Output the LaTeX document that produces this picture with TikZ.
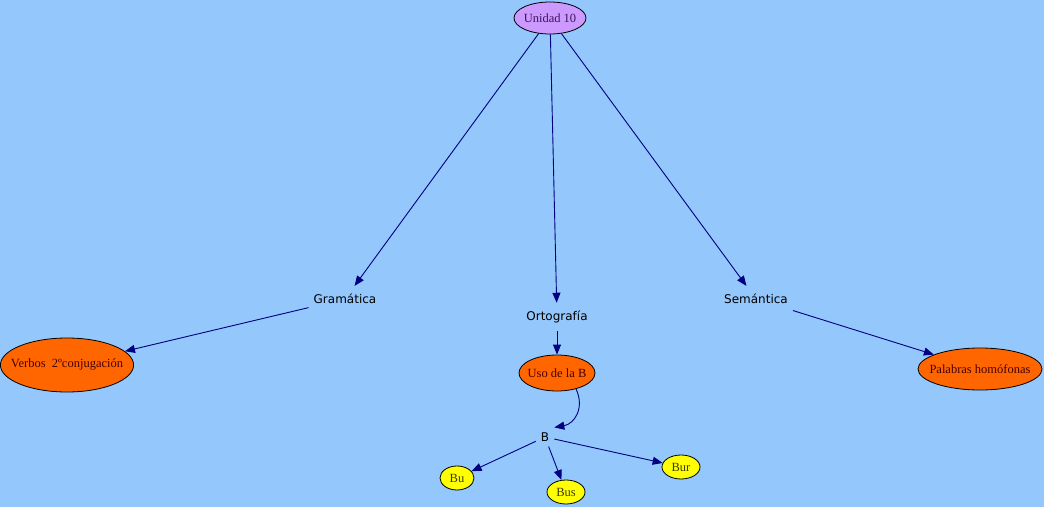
\documentclass[tikz,border=0pt]{standalone}
\usepackage{fontspec}
\setmainfont{Liberation Serif}
\newfontfamily\rotulo{DejaVu Sans}
\usetikzlibrary{shapes.geometric,arrows.meta}
\definecolor{fondo}{RGB}{148,199,252}
\definecolor{lila}{RGB}{204,153,255}
\definecolor{naranja}{RGB}{255,102,0}
\definecolor{amarillo}{RGB}{255,255,0}
\definecolor{flecha}{RGB}{0,0,128}
\tikzset{
	tema/.style={ellipse,draw=black,line width=0.8pt,inner xsep=-9pt,inner ysep=0pt,font=\fontsize{12.5}{14}\selectfont},
	raiz/.style={tema,fill=lila,text={rgb,255:red,60;green,20;blue,90},minimum width=72pt,minimum height=32pt},
	hoja/.style={tema,fill=naranja,text={rgb,255:red,70;green,0;blue,0}},
	silaba/.style={tema,fill=amarillo,text={rgb,255:red,60;green,60;blue,0},minimum width=36pt,minimum height=24pt},
	rama/.style={inner xsep=5pt,inner ysep=8pt,font=\rotulo\fontsize{12}{14}\selectfont},
	enlace/.style={draw=flecha,line width=0.9pt,-{Triangle[length=10pt,width=8pt]}}
}
\begin{document}
\begin{tikzpicture}[x=1pt,y=1pt]
	\fill [fondo] (0,0) rectangle (1044,507);
	\useasboundingbox (0,0) rectangle (1044,507);

	\node [raiz] (unidad) at (550,489) {Unidad 10};

	%las tres ramas
	\node [rama] (gramatica) at (345,208) {Gramática};
	\node [rama] (ortografia) at (557,190) {Ortografía};
	\node [rama] (semantica) at (756,208) {Semántica};

	\node [hoja,minimum width=132pt,minimum height=54pt] (verbos) at (67,142) {Verbos\ \ 2ºconjugación};
	\node [hoja,minimum width=76pt,minimum height=36pt] (uso) at (557,134) {Uso de la B};
	\node [hoja,minimum width=124pt,minimum height=42pt] (palabras) at (980,138) {Palabras homófonas};

	\node [rama,inner ysep=5pt] (b) at (545,70) {B};
	\node [silaba,minimum width=34pt] (bu) at (457,29) {Bu};
	\node [silaba,minimum width=38pt] (bus) at (566,15) {Bus};
	\node [silaba,minimum width=38pt] (bur) at (681,40) {Bur};

	%flechas
	\draw [enlace] (unidad) -- (gramatica);
	\draw [enlace] (unidad) -- (ortografia);
	\draw [enlace] (unidad) -- (semantica);
	\draw [enlace] (gramatica) -- (verbos);
	\draw [enlace] (ortografia) -- (uso);
	\draw [enlace] (semantica) -- (palabras);
	\draw [enlace] (uso.-40) to[out=-65,in=10,looseness=1.2] (b.north east);
	\draw [enlace] (b) -- (bu);
	\draw [enlace] (b) -- (bus);
	\draw [enlace] (b) -- (bur);
\end{tikzpicture}
\end{document}
